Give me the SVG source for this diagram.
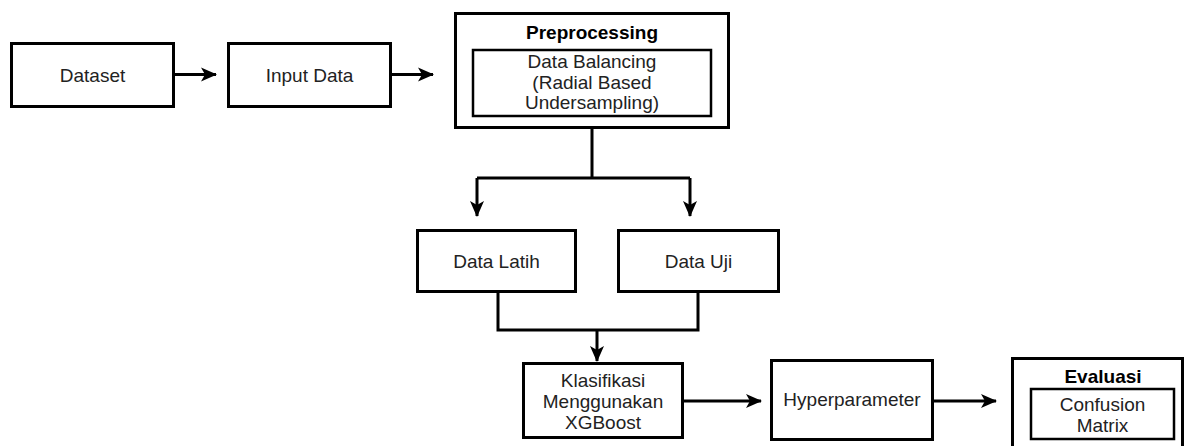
<svg xmlns="http://www.w3.org/2000/svg" width="1184" height="446" viewBox="0 0 1184 446">
<defs>
<style>
.box{fill:#fff;stroke:#000;stroke-width:3}
.inner{fill:#fff;stroke:#000;stroke-width:2.5}
.t{font-family:"Liberation Sans",Arial,sans-serif;font-size:19px;fill:#222;text-anchor:middle}
.b{font-weight:bold;fill:#000}
.c{fill:none;stroke:#000;stroke-width:3}
</style>
<marker id="ah" viewBox="0 0 16 14" refX="15" refY="7" markerWidth="5.33" markerHeight="4.67" markerUnits="strokeWidth" orient="auto">
<path d="M0,0 L16,7 L0,14 L4,7 Z" fill="#000"/>
</marker>
</defs>
<rect width="1184" height="446" fill="#fff"/>
<g id="connectors">
<path class="c" d="M173,74.5 H216" marker-end="url(#ah)"/>
<path class="c" d="M390,74.5 H433" marker-end="url(#ah)"/>
<path class="c" d="M592,127 V178 M477,178 H690 M477,178 V216" marker-end="url(#ah)"/>
<path class="c" d="M690,178 V216" marker-end="url(#ah)"/>
<path class="c" d="M498,291 V330 H698 V291 M597,330 V361" marker-end="url(#ah)"/>
<path class="c" d="M683,401 H761" marker-end="url(#ah)"/>
<path class="c" d="M932,401 H996" marker-end="url(#ah)"/>
</g>
<g id="dataset">
<rect class="box" x="11.5" y="43.5" width="162" height="63"/>
<text class="t" x="92.5" y="82">Dataset</text>
</g>
<g id="input-data">
<rect class="box" x="228.5" y="43.5" width="162" height="63"/>
<text class="t" x="309.5" y="82">Input Data</text>
</g>
<g id="preprocessing">
<rect class="box" x="455.5" y="13.5" width="273" height="114"/>
<text class="t b" x="592" y="39">Preprocessing</text>
<rect class="inner" x="473" y="50" width="238" height="66"/>
<text class="t" x="592" y="68">Data Balancing</text>
<text class="t" x="592" y="88.5">(Radial Based</text>
<text class="t" x="592" y="108.5">Undersampling)</text>
</g>
<g id="data-latih">
<rect class="box" x="417.5" y="230.5" width="158" height="61"/>
<text class="t" x="496.5" y="268">Data Latih</text>
</g>
<g id="data-uji">
<rect class="box" x="618.5" y="230.5" width="160" height="61"/>
<text class="t" x="698.5" y="268">Data Uji</text>
</g>
<g id="klasifikasi">
<rect class="box" x="523.5" y="363.5" width="159" height="74"/>
<text class="t" x="603" y="387">Klasifikasi</text>
<text class="t" x="603" y="408">Menggunakan</text>
<text class="t" x="603" y="429">XGBoost</text>
</g>
<g id="hyperparameter">
<rect class="box" x="771.5" y="360.5" width="161" height="79"/>
<text class="t" x="852" y="406">Hyperparameter</text>
</g>
<g id="evaluasi">
<rect class="box" x="1012.5" y="358.5" width="170" height="100"/>
<text class="t b" x="1103" y="382.5">Evaluasi</text>
<rect class="inner" x="1031" y="389" width="143" height="50"/>
<text class="t" x="1102.5" y="410.5">Confusion</text>
<text class="t" x="1102.5" y="431.5">Matrix</text>
</g>
</svg>
